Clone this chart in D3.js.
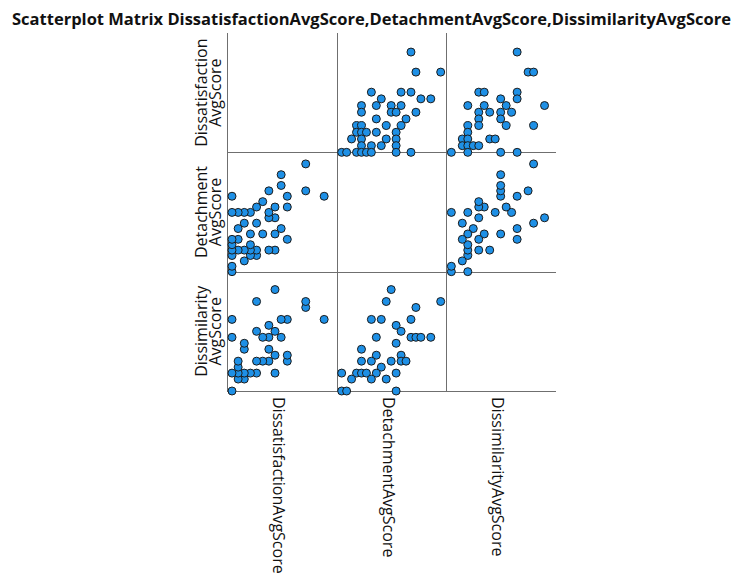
<!DOCTYPE html>
<html>
<head>
<meta charset="utf-8">
<script src="https://cdn.jsdelivr.net/npm/d3@7/dist/d3.min.js"></script>
<style>
  html, body { margin: 0; padding: 0; background: #fff; }
  svg { display: block; }
  text { font-family: "Open Sans", "DejaVu Sans", sans-serif; fill: #111; }
</style>
</head>
<body>
<svg id="chart" width="749" height="575"></svg>
<script>
// Variables in matrix order (rows top to bottom, columns left to right)
const variables = ["DissatisfactionAvgScore", "DetachmentAvgScore", "DissimilarityAvgScore"];
const rowLabelLines = [["Dissatisfaction", "AvgScore"], ["Detachment", "AvgScore"], ["Dissimilarity", "AvgScore"]];
const titleText = "Scatterplot Matrix DissatisfactionAvgScore,DetachmentAvgScore,DissimilarityAvgScore";

// Axis extent of each variable
const domains = [[1.0, 4.57], [1.0, 5.43], [1.0, 5.0]];

// Observed pairs: [Dissatisfaction, Detachment]
const dissatDetach = [
  [4.0, 3.8],
  [3.4, 4.0], [3.4, 5.0],
  [2.8, 2.2], [2.8, 3.4], [2.8, 3.8],
  [2.6, 2.6], [2.6, 4.2], [2.6, 4.6],
  [2.4, 1.8], [2.4, 2.4], [2.4, 3.0], [2.4, 3.4],
  [2.2, 1.8], [2.2, 3.0], [2.2, 3.2], [2.2, 4.0],
  [2.0, 2.4], [2.0, 3.6],
  [1.8, 1.6], [1.8, 1.8], [1.8, 2.8], [1.8, 3.4],
  [1.6, 1.6], [1.6, 1.8], [1.6, 2.0], [1.6, 2.4], [1.6, 3.2],
  [1.4, 1.4], [1.4, 1.8], [1.4, 2.8], [1.4, 3.2],
  [1.2, 1.8], [1.2, 2.2], [1.2, 2.6], [1.2, 3.2],
  [1.0, 1.0], [1.0, 1.2], [1.0, 1.6], [1.0, 1.8], [1.0, 2.0], [1.0, 2.2], [1.0, 3.2], [1.0, 3.8]
];

// Observed pairs: [Dissatisfaction, Dissimilarity]
const dissatDissim = [
  [4.0, 3.4],
  [3.4, 3.8], [3.4, 4.0],
  [2.8, 2.0], [2.8, 2.2], [2.8, 3.4],
  [2.6, 2.8], [2.6, 3.4],
  [2.4, 1.6], [2.4, 2.2], [2.4, 3.0], [2.4, 4.4],
  [2.2, 2.0], [2.2, 2.4], [2.2, 2.8], [2.2, 3.2],
  [2.0, 2.0], [2.0, 2.8],
  [1.8, 1.6], [1.8, 2.0], [1.8, 3.0], [1.8, 4.0],
  [1.6, 1.6],
  [1.4, 1.4], [1.4, 1.6], [1.4, 2.4], [1.4, 2.6],
  [1.2, 1.4], [1.2, 1.6], [1.2, 1.8], [1.2, 2.0],
  [1.0, 1.0], [1.0, 1.6], [1.0, 2.8], [1.0, 3.4]
];

// Observed pairs: [Detachment, Dissimilarity]
const detachDissim = [
  [3.0, 4.4],
  [2.8, 4.0], [5.0, 4.0],
  [4.0, 3.8],
  [2.2, 3.4], [2.6, 3.4], [3.8, 3.4],
  [3.2, 3.2],
  [3.4, 3.0],
  [2.4, 2.8], [3.8, 2.8], [4.0, 2.8], [4.2, 2.8], [4.6, 2.8],
  [3.2, 2.6],
  [1.8, 2.4],
  [2.4, 2.2], [3.4, 2.2],
  [1.8, 2.0], [2.2, 2.0], [3.0, 2.0], [3.4, 2.0], [3.6, 2.0],
  [2.6, 1.8],
  [1.0, 1.6], [1.6, 1.6], [1.8, 1.6], [2.0, 1.6], [2.4, 1.6], [3.2, 1.6],
  [1.4, 1.4], [2.2, 1.4], [2.8, 1.4],
  [1.0, 1.0], [1.2, 1.0], [3.2, 1.0]
];

// Pair lists keyed by "lowerIndex,higherIndex"
const pairData = { "0,1": dissatDetach, "0,2": dissatDissim, "1,2": detachDissim };

const svg = d3.select("#chart");

// Grid geometry
const gridLeft = 227, gridRight = 556, gridTop = 33, gridBottom = 391;
const n = variables.length;
const cw = (gridRight - gridLeft) / n;
const ch = (gridBottom - gridTop) / n;
const inset = 5;

const colLeft = i => gridLeft + i * cw;
const rowBottom = i => gridTop + (i + 1) * ch;

const xScales = d3.range(n).map(c =>
  d3.scaleLinear().domain(domains[c]).range([colLeft(c) + inset, colLeft(c) + cw + inset]));
const yScales = d3.range(n).map(r =>
  d3.scaleLinear().domain(domains[r]).range([rowBottom(r), rowBottom(r) - ch]));

// Title
svg.append("text")
  .attr("x", 12).attr("y", 25)
  .attr("textLength", 719).attr("lengthAdjust", "spacingAndGlyphs")
  .style("font-size", "16px").style("font-weight", "bold")
  .text(titleText);

// Frame lines: a vertical rule at each column's left, a horizontal rule at each row's bottom
const frame = svg.append("g").attr("stroke", "#6f6f6f").attr("stroke-width", 1);
d3.range(n).forEach(c => {
  frame.append("line")
    .attr("x1", Math.round(colLeft(c)) + 0.5).attr("x2", Math.round(colLeft(c)) + 0.5)
    .attr("y1", gridTop).attr("y2", gridBottom);
});
d3.range(n).forEach(r => {
  frame.append("line")
    .attr("x1", gridLeft).attr("x2", gridRight)
    .attr("y1", Math.round(rowBottom(r)) + 0.5).attr("y2", Math.round(rowBottom(r)) + 0.5);
});

// Points in every off-diagonal cell
const pts = svg.append("g");
for (let r = 0; r < n; r++) {
  for (let c = 0; c < n; c++) {
    if (r === c) continue;
    const lo = Math.min(r, c), hi = Math.max(r, c);
    const data = pairData[lo + "," + hi];
    // x is the column variable, y is the row variable
    const xi = c === lo ? 0 : 1;
    const yi = r === lo ? 0 : 1;
    pts.append("g").selectAll("circle")
      .data(data)
      .join("circle")
      .attr("cx", d => xScales[c](d[xi]))
      .attr("cy", d => yScales[r](d[yi]))
      .attr("r", 4)
      .attr("fill", "#1e90e6")
      .attr("stroke", "#1c1c1c")
      .attr("stroke-width", 1);
  }
}

// Row labels (rotated, two lines)
d3.range(n).forEach(r => {
  const cy = rowBottom(r) - ch / 2;
  const g = svg.append("g").attr("transform", `translate(0,${cy}) rotate(-90)`);
  rowLabelLines[r].forEach((line, i) => {
    g.append("text")
      .attr("x", 0).attr("y", 207 + i * 14)
      .attr("text-anchor", "middle")
      .style("font-size", "16px")
      .text(line);
  });
});

// Column labels (rotated, reading downward)
d3.range(n).forEach(c => {
  const cx = colLeft(c) + cw / 2 - 9;
  svg.append("text")
    .attr("transform", `translate(${cx},397) rotate(90)`)
    .attr("x", 0).attr("y", 0)
    .style("font-size", "16px")
    .text(variables[c]);
});
</script>
</body>
</html>
